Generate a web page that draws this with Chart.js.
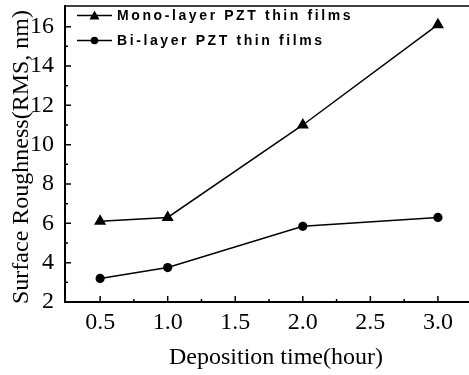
<!DOCTYPE html>
<html>
<head>
<meta charset="utf-8">
<script src="https://cdn.jsdelivr.net/npm/chart.js@4.4.1/dist/chart.umd.min.js"></script>
<style>
html, body { margin: 0; padding: 0; background: #fff; overflow: hidden; }
#wrap { width: 469px; height: 375px; position: relative; }
</style>
</head>
<body>
<div id="wrap"><canvas id="roughChart"></canvas></div>
<script>
// data
const hours = [0.5, 1.0, 2.0, 3.0];
const monoLayer = [6.1, 6.3, 11.0, 16.1];
const biLayer = [3.2, 3.75, 5.85, 6.3];
const seriesNames = ['Mono-layer PZT thin films', 'Bi-layer PZT thin films'];
const xTicks = [0.5, 1.0, 1.5, 2.0, 2.5, 3.0];
const xMinor = [0.75, 1.25, 1.75, 2.25, 2.75];
const yTicks = [2, 4, 6, 8, 10, 12, 14, 16];
const yMinor = [3, 5, 7, 9, 11, 13, 15];

const serif = '"Liberation Serif", "Times New Roman", serif';

// inward ticks, top frame line, axis titles and the legend box
const framePlugin = {
    id: 'frame',
    afterDraw: (chart) => {
        const { ctx, chartArea: area, scales: { x, y } } = chart;
        ctx.save();
        ctx.strokeStyle = '#000';
        ctx.lineWidth = 1.5;
        // top line
        ctx.beginPath();
        ctx.moveTo(area.left, area.top);
        ctx.lineTo(area.right, area.top);
        ctx.stroke();
        // ticks pointing into the plot
        ctx.beginPath();
        xTicks.forEach(v => { const px = x.getPixelForValue(v); ctx.moveTo(px, area.bottom); ctx.lineTo(px, area.bottom - 6); });
        xMinor.forEach(v => { const px = x.getPixelForValue(v); ctx.moveTo(px, area.bottom); ctx.lineTo(px, area.bottom - 3); });
        yTicks.forEach(v => { const py = y.getPixelForValue(v); ctx.moveTo(area.left, py); ctx.lineTo(area.left + 6, py); });
        yMinor.forEach(v => { const py = y.getPixelForValue(v); ctx.moveTo(area.left, py); ctx.lineTo(area.left + 3, py); });
        ctx.stroke();

        // axis titles
        ctx.fillStyle = '#000';
        ctx.font = '24px ' + serif;
        ctx.textAlign = 'center';
        ctx.textBaseline = 'middle';
        ctx.fillText('Deposition time(hour)', 276, 358);
        ctx.translate(22, 157);
        ctx.rotate(-Math.PI / 2);
        ctx.fillText('Surface Roughness(RMS, nm)', 0, 0);
        ctx.setTransform(1, 0, 0, 1, 0, 0);

        // legend
        const rows = [15.5, 40.5];
        rows.forEach((ry, i) => {
            ctx.beginPath();
            ctx.moveTo(77, ry);
            ctx.lineTo(112, ry);
            ctx.stroke();
            ctx.beginPath();
            if (i === 0) {
                ctx.moveTo(94.5, ry - 5);
                ctx.lineTo(99.5, ry + 4);
                ctx.lineTo(89.5, ry + 4);
                ctx.closePath();
            } else {
                ctx.arc(94.5, ry, 3.8, 0, Math.PI * 2);
            }
            ctx.fill();
            ctx.font = 'bold 14px "Liberation Sans", Arial, sans-serif';
            ctx.letterSpacing = '2.6px';
            ctx.textAlign = 'left';
            ctx.fillText(seriesNames[i], 117, ry + 0.5);
            ctx.letterSpacing = '0px';
        });
        ctx.restore();
    }
};

new Chart(document.getElementById('roughChart'), {
    type: 'scatter',
    data: {
        datasets: [
            {
                label: seriesNames[0],
                data: hours.map((h, i) => ({ x: h, y: monoLayer[i] })),
                showLine: true,
                borderColor: '#000',
                backgroundColor: '#000',
                borderWidth: 1.5,
                pointStyle: 'triangle',
                pointRadius: 7,
                pointBorderWidth: 0
            },
            {
                label: seriesNames[1],
                data: hours.map((h, i) => ({ x: h, y: biLayer[i] })),
                showLine: true,
                borderColor: '#000',
                backgroundColor: '#000',
                borderWidth: 1.5,
                pointStyle: 'circle',
                pointRadius: 4.6,
                pointBorderWidth: 0
            }
        ]
    },
    options: {
        responsive: true,
        maintainAspectRatio: false,
        animation: false,
        layout: { autoPadding: false, padding: { top: 6, left: 0, right: 0, bottom: 0 } },
        plugins: { legend: { display: false }, tooltip: { enabled: false } },
        scales: {
            x: {
                type: 'linear',
                min: 0.24,
                max: 3.23,
                afterBuildTicks: (scale) => { scale.ticks = xTicks.map(v => ({ value: v })); },
                afterFit: (scale) => {
                    scale.height = 73;
                    scale.paddingLeft = 0;
                    scale.paddingRight = 0;
                },
                grid: { display: false },
                border: { display: true, color: '#000', width: 2 },
                ticks: {
                    color: '#000',
                    padding: -2,
                    maxRotation: 0,
                    font: { family: serif, size: 24 },
                    callback: (v) => Number(v).toFixed(1)
                }
            },
            y: {
                type: 'linear',
                min: 2,
                max: 17.05,
                afterBuildTicks: (scale) => { scale.ticks = yTicks.map(v => ({ value: v })); },
                afterFit: (scale) => {
                    scale.width = 65;
                    scale.paddingTop = 0;
                    scale.paddingBottom = 0;
                },
                grid: { display: false },
                border: { display: true, color: '#000', width: 2 },
                ticks: {
                    color: '#000',
                    padding: 3,
                    font: { family: serif, size: 24 },
                    callback: (v) => String(v)
                }
            }
        }
    },
    plugins: [framePlugin]
});
</script>
</body>
</html>
